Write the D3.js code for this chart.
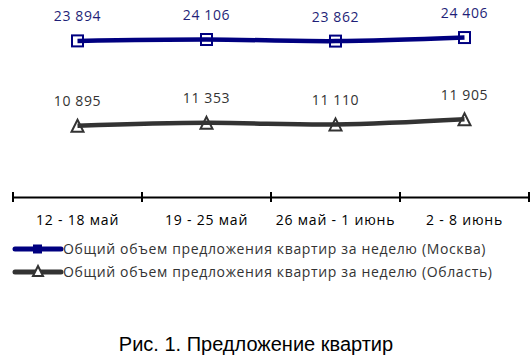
<!DOCTYPE html>
<html><head><meta charset="utf-8">
<script src="https://cdn.jsdelivr.net/npm/d3@7"></script>
<style>body{margin:0;background:#fff}svg{display:block}</style>
</head><body>
<svg id="c" width="532" height="356"></svg>
<script>
const categories = ["12 - 18 май", "19 - 25 май", "26 май - 1 июнь", "2 - 8 июнь"];
const moscow = [23894, 24106, 23862, 24406];
const oblast = [10895, 11353, 11110, 11905];
const seriesNames = ["Общий объем предложения квартир за неделю (Москва)", "Общий объем предложения квартир за неделю (Область)"];
const title = "Рис. 1. Предложение квартир";

const svg = d3.select("#c");
const x = d3.scaleBand().domain(categories).range([13, 529]);
const y = d3.scaleLinear().domain([0, 30000]).range([197, 1]);
const fmt = v => d3.format(",")(v).replace(",", " ");
const font = "'Open Sans', sans-serif";

// axis
const ax = svg.append("g").attr("transform", "translate(0,197)")
  .call(d3.axisBottom(x).tickSize(0).tickPadding(18).tickSizeOuter(0));
ax.select(".domain").attr("stroke", "#000").attr("stroke-width", 2);
ax.selectAll(".tick text").attr("font-family", font).attr("font-size", 14).attr("fill", "#000").attr("letter-spacing", 0.8);
const bounds = [13].concat(categories.map(c => x(c) + x.bandwidth()));
ax.selectAll(".bt").data(bounds).enter().append("line")
  .attr("x1", d => d).attr("x2", d => d).attr("y1", -5).attr("y2", 5)
  .attr("stroke", "#000").attr("stroke-width", 2);

const cx = c => x(c) + x.bandwidth() / 2;
const series = [
  {vals: moscow, color: "#000080", label: "#1f1f78", marker: "square"},
  {vals: oblast, color: "#333333", label: "#333333", marker: "triangle"}
];
series.forEach(s => {
  const pts = categories.map((c, i) => [cx(c), y(s.vals[i])]);
  svg.append("path").attr("d", d3.line().curve(d3.curveCatmullRom.alpha(0.5))(pts))
    .attr("fill", "none").attr("stroke", s.color).attr("stroke-width", 4.5);
  pts.forEach((p, i) => {
    if (s.marker === "square") {
      svg.append("rect").attr("x", p[0] - 5.5).attr("y", p[1] - 5.5).attr("width", 11).attr("height", 11)
        .attr("fill", "none").attr("stroke", s.color).attr("stroke-width", 2);
    } else {
      svg.append("path").attr("d", `M${p[0]},${p[1]-6}L${p[0]+6},${p[1]+6}L${p[0]-6},${p[1]+6}Z`)
        .attr("fill", "none").attr("stroke", s.color).attr("stroke-width", 2);
    }
    svg.append("text").attr("x", p[0]).attr("y", p[1] - 19.5).attr("text-anchor", "middle")
      .attr("font-family", font).attr("font-size", 14).attr("letter-spacing", 0.6)
      .attr("fill", s.label).text(fmt(s.vals[i]));
  });
});

// legend
const legY = [249, 272];
series.forEach((s, i) => {
  const g = svg.append("g").attr("transform", `translate(0,${legY[i]})`);
  g.append("line").attr("x1", 15).attr("x2", 61).attr("y1", 0).attr("y2", 0)
    .attr("stroke", s.color).attr("stroke-width", 5).attr("stroke-linecap", "round");
  if (s.marker === "square") {
    g.append("rect").attr("x", 33).attr("y", -4.5).attr("width", 9).attr("height", 9).attr("fill", s.color);
  } else {
    g.append("path").attr("d", "M38,-6L43,4L33,4Z").attr("fill", "#fff").attr("stroke", s.color).attr("stroke-width", 2);
  }
  g.append("text").attr("x", 63).attr("y", 5).attr("font-family", font).attr("font-size", 14)
    .attr("letter-spacing", 0.65).attr("fill", "#333").text(seriesNames[i]);
});

svg.append("text").attr("x", 256).attr("y", 350.5).attr("text-anchor", "middle")
  .attr("font-family", "'Liberation Sans', Arial, sans-serif").attr("font-size", 20).attr("fill", "#000").text(title);
</script>
</body></html>
